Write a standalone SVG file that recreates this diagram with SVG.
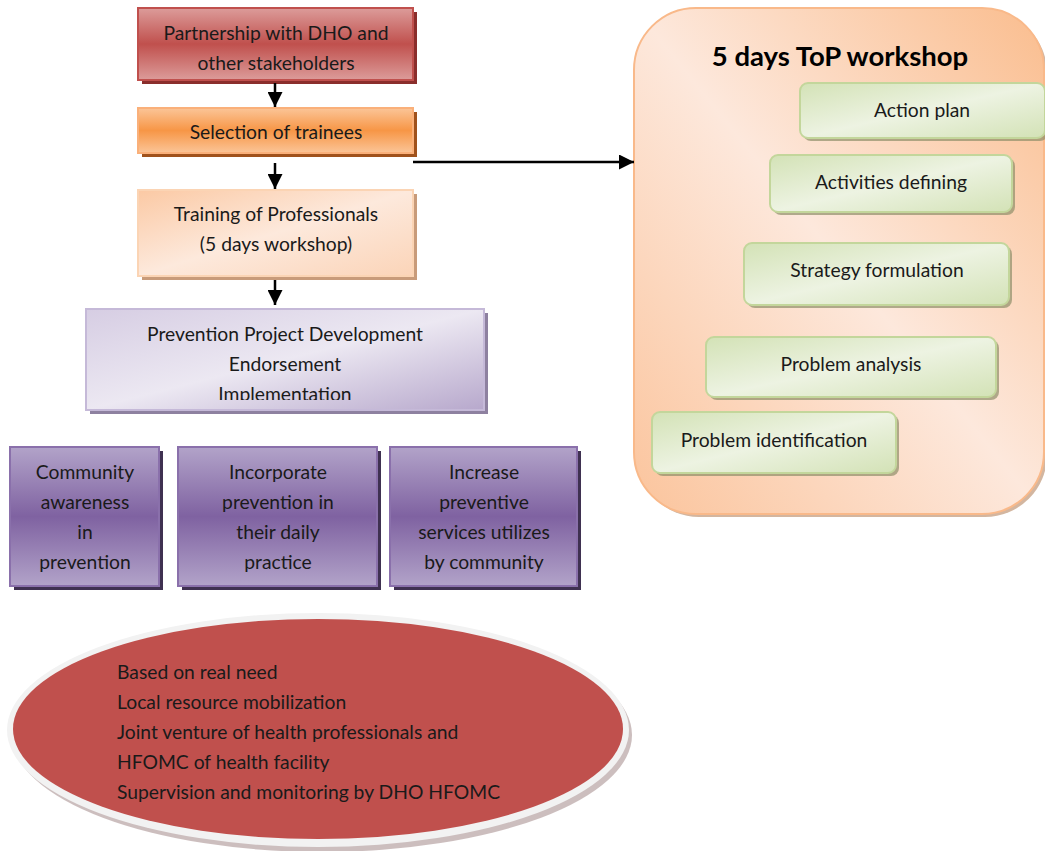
<svg xmlns="http://www.w3.org/2000/svg" width="1045" height="851" viewBox="0 0 1045 851">
<defs>
<linearGradient id="gRed" x1="0" y1="0" x2="0" y2="1"><stop offset="0" stop-color="#dc9c9a"/><stop offset="0.5" stop-color="#c0504d"/><stop offset="1" stop-color="#dc9c9a"/></linearGradient>
<linearGradient id="gOr" x1="0" y1="0" x2="0" y2="1"><stop offset="0" stop-color="#fbc598"/><stop offset="0.5" stop-color="#f79646"/><stop offset="1" stop-color="#fbc598"/></linearGradient>
<linearGradient id="gPeach" x1="0" y1="0" x2="1" y2="1"><stop offset="0" stop-color="#fbc9a4"/><stop offset="0.5" stop-color="#fde9dc"/><stop offset="1" stop-color="#fbd4b8"/></linearGradient>
<linearGradient id="gLav" x1="0" y1="0" x2="1" y2="1"><stop offset="0" stop-color="#d6cde3"/><stop offset="0.5" stop-color="#ece8f2"/><stop offset="1" stop-color="#b7a8cc"/></linearGradient>
<linearGradient id="gPur" x1="0" y1="0" x2="0" y2="1"><stop offset="0" stop-color="#b2a3c9"/><stop offset="0.5" stop-color="#7f62a1"/><stop offset="1" stop-color="#b2a3c9"/></linearGradient>
<linearGradient id="gBig" x1="0" y1="1" x2="1" y2="0"><stop offset="0" stop-color="#fbc49c"/><stop offset="0.5" stop-color="#fde8dc"/><stop offset="1" stop-color="#fabd8e"/></linearGradient>
<linearGradient id="gGreen" x1="0" y1="0" x2="1" y2="1"><stop offset="0" stop-color="#d3e2b6"/><stop offset="0.5" stop-color="#edf3e2"/><stop offset="1" stop-color="#d3e2b6"/></linearGradient>
<marker id="ah" viewBox="0 0 10 10" refX="10" refY="5" markerWidth="6" markerHeight="6" orient="auto" markerUnits="strokeWidth"><path d="M0,0 L10,5 L0,10 z" fill="#000"/></marker>
<clipPath id="clipP"><rect x="86" y="309" width="398" height="91"/></clipPath>
</defs>
<style>
text{font-family:Lato,"Open Sans","Liberation Sans",sans-serif;font-size:19.3px;fill:#1a1a1a;text-anchor:middle}
.l{text-anchor:start}
.t{font-weight:bold;font-size:27.5px;fill:#000}
.conn{stroke:#000;stroke-width:2.5;fill:none}
</style>
<rect width="1045" height="851" fill="#fff"/>

<g id="workshop">
<rect x="637" y="11" width="410" height="506" rx="62" fill="#b58560" opacity="0.6"/>
<rect x="634" y="8" width="410" height="506" rx="62" fill="url(#gBig)" stroke="#f9b98a" stroke-width="2"/>
<text class="t" x="840" y="66">5 days ToP workshop</text>
</g>

<g id="action-plan">
<rect x="803" y="86" width="245" height="55" rx="8" fill="#8f8f6a" opacity="0.7"/>
<rect x="800" y="83" width="245" height="55" rx="8" fill="url(#gGreen)" stroke="#c3d69b" stroke-width="2"/>
<text x="922" y="117">Action plan</text>
</g>
<g id="activities-defining">
<rect x="773" y="158" width="242" height="57" rx="8" fill="#8f8f6a" opacity="0.7"/>
<rect x="770" y="155" width="242" height="57" rx="8" fill="url(#gGreen)" stroke="#c3d69b" stroke-width="2"/>
<text x="891" y="189">Activities defining</text>
</g>
<g id="strategy-formulation">
<rect x="747" y="246" width="265" height="62" rx="8" fill="#8f8f6a" opacity="0.7"/>
<rect x="744" y="243" width="265" height="62" rx="8" fill="url(#gGreen)" stroke="#c3d69b" stroke-width="2"/>
<text x="877" y="277">Strategy formulation</text>
</g>
<g id="problem-analysis">
<rect x="709" y="340" width="290" height="60" rx="8" fill="#8f8f6a" opacity="0.7"/>
<rect x="706" y="337" width="290" height="60" rx="8" fill="url(#gGreen)" stroke="#c3d69b" stroke-width="2"/>
<text x="851" y="371">Problem analysis</text>
</g>
<g id="problem-identification">
<rect x="655" y="415" width="244" height="61" rx="8" fill="#8f8f6a" opacity="0.7"/>
<rect x="652" y="412" width="244" height="61" rx="8" fill="url(#gGreen)" stroke="#c3d69b" stroke-width="2"/>
<text x="774" y="447">Problem identification</text>
</g>

<g id="partnership">
<rect x="142" y="12" width="275" height="72" fill="#8a2e2c"/>
<rect x="138" y="8" width="275" height="72" fill="url(#gRed)" stroke="#c0504d" stroke-width="2"/>
<text x="276" y="40">Partnership with DHO and</text>
<text x="276" y="70">other stakeholders</text>
</g>
<g id="selection">
<rect x="142" y="112" width="275" height="45" fill="#a0521c"/>
<rect x="138" y="108" width="275" height="45" fill="url(#gOr)" stroke="#fab07a" stroke-width="2"/>
<text x="276" y="139">Selection of trainees</text>
</g>
<g id="training">
<rect x="142" y="194" width="275" height="86" fill="#c89b7a"/>
<rect x="138" y="190" width="275" height="86" fill="url(#gPeach)" stroke="#fbd4b4" stroke-width="2"/>
<text x="276" y="221">Training of Professionals</text>
<text x="276" y="251">(5 days workshop)</text>
</g>
<g id="prevention">
<rect x="90" y="313" width="398" height="101" fill="#8e81a0"/>
<rect x="86" y="309" width="398" height="101" fill="url(#gLav)" stroke="#c5b9d8" stroke-width="2"/>
<g clip-path="url(#clipP)">
<text x="285" y="341">Prevention Project Development</text>
<text x="285" y="371">Endorsement</text>
<text x="285" y="401">Implementation</text>
</g>
</g>
<g id="community-awareness">
<rect x="14" y="451" width="149" height="139" fill="#3f3151"/>
<rect x="10" y="447" width="149" height="139" fill="url(#gPur)" stroke="#8a70ab" stroke-width="2"/>
<text x="85" y="479">Community</text>
<text x="85" y="509">awareness</text>
<text x="85" y="539">in</text>
<text x="85" y="569">prevention</text>
</g>
<g id="incorporate">
<rect x="182" y="451" width="199" height="139" fill="#3f3151"/>
<rect x="178" y="447" width="199" height="139" fill="url(#gPur)" stroke="#8a70ab" stroke-width="2"/>
<text x="278" y="479">Incorporate</text>
<text x="278" y="509">prevention in</text>
<text x="278" y="539">their daily</text>
<text x="278" y="569">practice</text>
</g>
<g id="increase">
<rect x="394" y="451" width="187" height="139" fill="#3f3151"/>
<rect x="390" y="447" width="187" height="139" fill="url(#gPur)" stroke="#8a70ab" stroke-width="2"/>
<text x="484" y="479">Increase</text>
<text x="484" y="509">preventive</text>
<text x="484" y="539">services utilizes</text>
<text x="484" y="569">by community</text>
</g>

<g id="principles">
<ellipse cx="322" cy="735" rx="310" ry="117" fill="#b7a3a3" opacity="0.7"/>
<ellipse cx="318" cy="730" rx="311" ry="117" fill="#f2f2f2"/>
<ellipse cx="318" cy="729" rx="305" ry="110" fill="#c0504d"/>
<text class="l" x="117" y="679">Based on real need</text>
<text class="l" x="117" y="709">Local resource mobilization</text>
<text class="l" x="117" y="739">Joint venture of health professionals and</text>
<text class="l" x="117" y="769">HFOMC of health facility</text>
<text class="l" x="117" y="799">Supervision and monitoring by DHO HFOMC</text>
</g>

<g id="connectors">
<line class="conn" x1="275" y1="83" x2="275" y2="107" marker-end="url(#ah)"/>
<line class="conn" x1="275" y1="163" x2="275" y2="189" marker-end="url(#ah)"/>
<line class="conn" x1="275" y1="280" x2="275" y2="305" marker-end="url(#ah)"/>
<line class="conn" x1="413" y1="162" x2="634" y2="162" marker-end="url(#ah)"/>
</g>
</svg>
